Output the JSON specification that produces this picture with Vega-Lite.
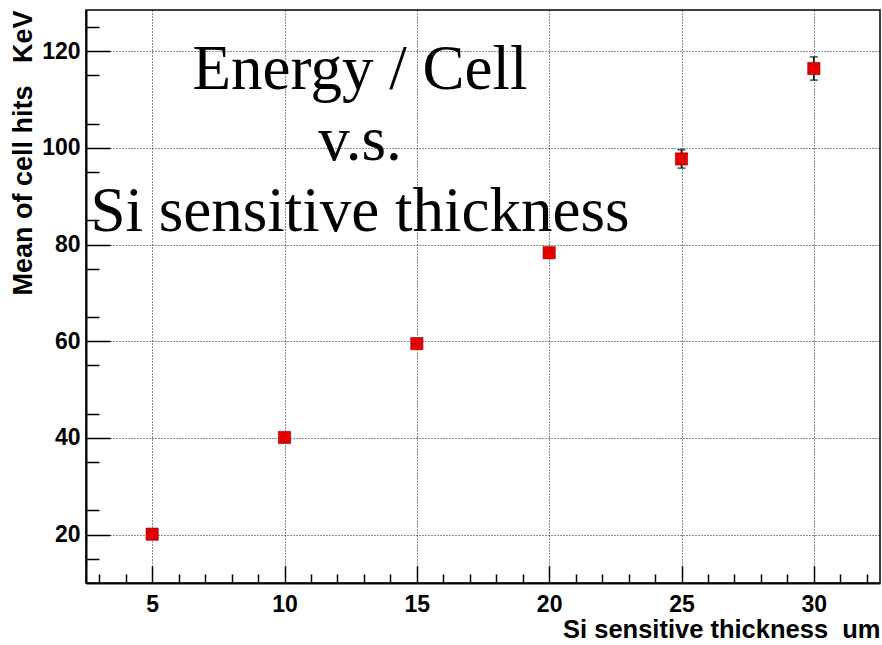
{
  "$schema": "https://vega.github.io/schema/vega-lite/v6.json",
  "width": 794,
  "height": 573,
  "autosize": "none",
  "padding": {"left": 86, "top": 10, "right": 2, "bottom": 62},
  "background": "white",
  "title": {
    "text": ["Energy / Cell", "v.s.", "Si sensitive thickness"],
    "font": "Liberation Serif",
    "fontSize": 63,
    "fontWeight": "normal",
    "lineHeight": 71,
    "color": "black",
    "anchor": "middle",
    "align": "center",
    "baseline": "alphabetic",
    "offset": -204,
    "dx": -123,
    "dy": 80
  },
  "data": {
    "values": [
      {"thickness": 5, "energy": 20.1, "lo": 19.7, "hi": 20.5},
      {"thickness": 10, "energy": 40.1, "lo": 39.6, "hi": 40.6},
      {"thickness": 15, "energy": 59.5, "lo": 59.0, "hi": 60.0},
      {"thickness": 20, "energy": 78.3, "lo": 77.3, "hi": 79.3},
      {"thickness": 25, "energy": 97.7, "lo": 95.8, "hi": 99.6},
      {"thickness": 30, "energy": 116.4, "lo": 114.0, "hi": 118.8}
    ]
  },
  "layer": [
    {
      "mark": {"type": "rule", "color": "black", "strokeWidth": 1.5},
      "encoding": {
        "x": {"field": "thickness", "type": "quantitative", "scale": {"domain": [2.5, 32.5], "nice": false, "zero": false}, "axis": null},
        "y": {"field": "lo", "type": "quantitative", "scale": {"domain": [10, 128.5], "nice": false, "zero": false}, "axis": null},
        "y2": {"field": "hi"}
      }
    },
    {
      "mark": {"type": "tick", "orient": "horizontal", "size": 8, "thickness": 1.5, "color": "black"},
      "encoding": {
        "x": {"field": "thickness", "type": "quantitative", "axis": null},
        "y": {"field": "lo", "type": "quantitative", "axis": null}
      }
    },
    {
      "mark": {"type": "tick", "orient": "horizontal", "size": 8, "thickness": 1.5, "color": "black"},
      "encoding": {
        "x": {"field": "thickness", "type": "quantitative", "axis": null},
        "y": {"field": "hi", "type": "quantitative", "axis": null}
      }
    },
    {
      "mark": {"type": "square", "size": 150, "filled": true, "color": "#e60000", "stroke": "#8b0000", "strokeWidth": 0.6, "opacity": 1},
      "encoding": {
        "x": {
          "field": "thickness", "type": "quantitative",
          "axis": {
            "orient": "bottom",
            "values": [5, 10, 15, 20, 25, 30],
            "tickSize": -17, "tickWidth": 1.5, "tickColor": "black",
            "labelPadding": 27, "labelFontSize": 23, "labelFont": "Liberation Sans", "labelFontWeight": "bold", "labelColor": "black",
            "labelFlush": false, "labelOverlap": false,
            "grid": true, "gridColor": "black", "gridDash": [1, 2], "gridWidth": 1, "gridOpacity": 0.9,
            "domainColor": "black", "domainWidth": 2,
            "title": "Si sensitive thickness\u00a0\u00a0um", "titleAnchor": "end", "titleFont": "Liberation Sans", "titleFontSize": 25.5, "titleFontWeight": "bold", "titleColor": "black", "titlePadding": 1
          }
        },
        "y": {
          "field": "energy", "type": "quantitative",
          "axis": {
            "orient": "left",
            "values": [20, 40, 60, 80, 100, 120],
            "tickSize": -24, "tickWidth": 1.5, "tickColor": "black",
            "labelPadding": 30, "labelFontSize": 23, "labelFont": "Liberation Sans", "labelFontWeight": "bold", "labelColor": "black",
            "labelFlush": false, "labelOverlap": false,
            "grid": true, "gridColor": "black", "gridDash": [1, 2], "gridWidth": 1, "gridOpacity": 0.9,
            "domainColor": "black", "domainWidth": 2,
            "title": "Mean of cell hits\u00a0\u00a0\u00a0KeV", "titleAnchor": "end", "titleFont": "Liberation Sans", "titleFontSize": 27, "titleFontWeight": "bold", "titleColor": "black", "titlePadding": 4
          }
        }
      }
    },
    {
      "mark": {"type": "point", "opacity": 0},
      "encoding": {
        "x": {
          "field": "thickness", "type": "quantitative",
          "axis": {
            "orient": "bottom",
            "values": [3, 4, 6, 7, 8, 9, 11, 12, 13, 14, 16, 17, 18, 19, 21, 22, 23, 24, 26, 27, 28, 29, 31, 32],
            "tickSize": -9, "tickWidth": 1.5, "tickColor": "black",
            "labels": false, "grid": false, "domain": false, "title": null
          }
        },
        "y": {
          "field": "energy", "type": "quantitative",
          "axis": {
            "orient": "left",
            "values": [15, 25, 35, 45, 55, 65, 75, 85, 95, 105, 115, 125],
            "tickSize": -13, "tickWidth": 1.5, "tickColor": "black",
            "labels": false, "grid": false, "domain": false, "title": null
          }
        }
      }
    }
  ],
  "resolve": {"axis": {"x": "independent", "y": "independent"}},
  "config": {
    "view": {"stroke": "black", "strokeWidth": 1.5}
  }
}
